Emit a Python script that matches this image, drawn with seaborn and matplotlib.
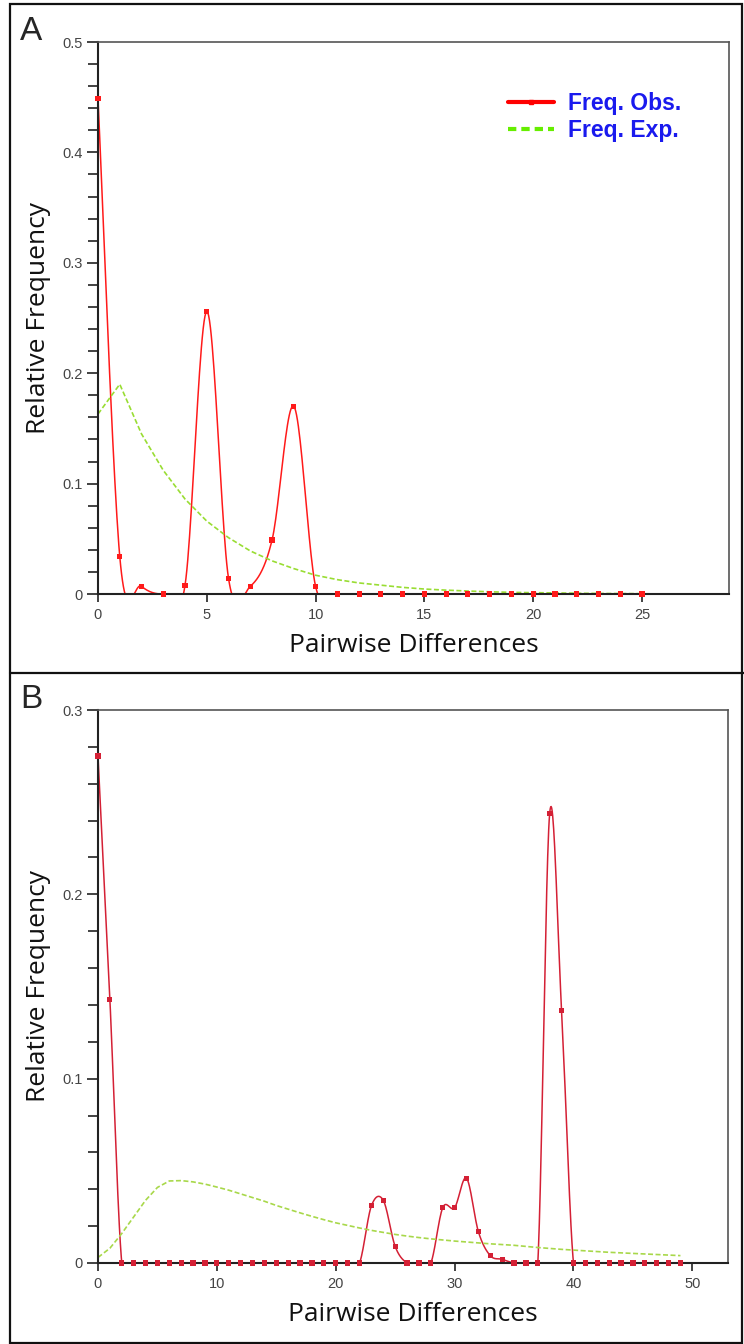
import numpy as np
import pandas as pd
import matplotlib
matplotlib.use("Agg")
import matplotlib.pyplot as plt
from matplotlib.lines import Line2D
from matplotlib.patches import Rectangle
from matplotlib.ticker import MultipleLocator
import seaborn as sns

# ---------------- data ----------------
a_x = list(range(0, 26))
a_obs = [0.449, 0.034, 0.007, 0.0, 0.008, 0.256, 0.014, 0.007, 0.049, 0.170,
         0.007, 0, 0, 0, 0, 0, 0, 0, 0, 0, 0, 0, 0, 0, 0, 0]
a_exp = [0.163, 0.190, 0.145, 0.112, 0.086, 0.066, 0.051, 0.039, 0.030, 0.023,
         0.017, 0.013, 0.010, 0.008, 0.006, 0.0045, 0.0035, 0.0027, 0.002, 0.0015,
         0.0012, 0.001, 0.0007, 0.0005, 0.0004, 0.0003]

b_x = list(range(0, 50))
b_obs = [0.275, 0.143] + [0.0] * 21 + [0.031, 0.034, 0.009, 0.0, 0.0, 0.0,
         0.030, 0.030, 0.046, 0.017, 0.004, 0.002, 0.0, 0.0, 0.0,
         0.244, 0.137] + [0.0] * 10
b_exp = [0.003, 0.008, 0.016, 0.025, 0.034, 0.041, 0.0445, 0.0447, 0.0440, 0.0428,
         0.0412, 0.0395, 0.0375, 0.0355, 0.0335, 0.0312, 0.0292, 0.0272, 0.0253, 0.0235,
         0.0218, 0.0204, 0.0190, 0.0177, 0.0166, 0.0155, 0.0146, 0.0138, 0.0131, 0.0125,
         0.0119, 0.0114, 0.0109, 0.0104, 0.0100, 0.0096, 0.0090, 0.0084, 0.0079, 0.0074,
         0.0070, 0.0066, 0.0062, 0.0058, 0.0055, 0.0052, 0.0049, 0.0046, 0.0043, 0.0040]

xlabel = "Pairwise Differences"
ylabel = "Relative Frequency"
legend_labels = ["Freq. Obs.", "Freq. Exp."]


def cardinal_curve(x, y, n=24):
    """Cardinal (Catmull-Rom) spline drawn through the data points."""
    x = np.asarray(x, float)
    y = np.asarray(y, float)
    px = np.concatenate([[x[0]], x, [x[-1]]])
    py = np.concatenate([[y[0]], y, [y[-1]]])
    t = np.linspace(0, 1, n, endpoint=False)
    h00 = 2 * t**3 - 3 * t**2 + 1
    h10 = t**3 - 2 * t**2 + t
    h01 = -2 * t**3 + 3 * t**2
    h11 = t**3 - t**2
    xs, ys = [], []
    for i in range(len(x) - 1):
        for p, out in ((px, xs), (py, ys)):
            p0, p1, p2, p3 = p[i], p[i + 1], p[i + 2], p[i + 3]
            m1 = (p2 - p0) / 2
            m2 = (p3 - p1) / 2
            out.append(h00 * p1 + h10 * m1 + h01 * p2 + h11 * m2)
    xs.append([x[-1]])
    ys.append([y[-1]])
    return np.concatenate(xs), np.concatenate(ys)


sns.set_style("white")
plt.rcParams["font.family"] = ["Open Sans", "DejaVu Sans"]

fig = plt.figure(figsize=(7.44, 13.44), dpi=100)

W, H = 744.0, 1344.0
axA = fig.add_axes([98 / W, 1 - 594 / H, (729 - 98) / W, (594 - 42) / H])
axB = fig.add_axes([98 / W, 1 - 1263 / H, (728 - 98) / W, (1263 - 710) / H])

tick_font = ["Liberation Sans Narrow", "Liberation Sans", "DejaVu Sans"]


def draw_panel(ax, x, obs, exp, ylim, xlim, xmajor, red, green, ms):
    sx, sy = cardinal_curve(x, obs)
    sns.lineplot(data=pd.DataFrame({"x": sx, "y": sy}), x="x", y="y", ax=ax,
                 sort=False, estimator=None, color=red, lw=1.1)
    sns.lineplot(data=pd.DataFrame({"x": x, "y": exp}), x="x", y="y", ax=ax,
                 sort=False, estimator=None, color=green, lw=1.2,
                 dashes=False, linestyle=(0, (3, 1.5)))
    sns.scatterplot(data=pd.DataFrame({"x": x, "y": obs}), x="x", y="y", ax=ax,
                    marker="s", s=ms, color=red, edgecolor="none",
                    clip_on=False, zorder=5)
    ax.set_xlim(*xlim)
    ax.set_ylim(*ylim)
    ax.xaxis.set_major_locator(MultipleLocator(xmajor))
    ax.yaxis.set_major_locator(MultipleLocator(0.1))
    ax.yaxis.set_minor_locator(MultipleLocator(0.02))
    ax.tick_params(axis="both", which="both", direction="out", colors="#222222",
                   labelcolor="#444444", left=True, bottom=True)
    ax.tick_params(axis="y", which="major", length=8, width=1.2, labelsize=10.5, pad=3)
    ax.tick_params(axis="y", which="minor", length=7, width=1.2)
    ax.tick_params(axis="x", which="major", length=6, width=1.2, labelsize=10.5, pad=4)
    ax.tick_params(axis="x", which="minor", bottom=False)
    ax.yaxis.set_major_formatter(matplotlib.ticker.FuncFormatter(
        lambda v, p: "0" if abs(v) < 1e-9 else f"{v:.1f}"))
    for lab in ax.get_xticklabels() + ax.get_yticklabels():
        lab.set_family(tick_font)
    for side in ("left", "bottom"):
        ax.spines[side].set_color("#222222")
        ax.spines[side].set_linewidth(1.5)
    for side in ("top", "right"):
        ax.spines[side].set_color("#555555")
        ax.spines[side].set_linewidth(1.2)
        ax.spines[side].set_visible(True)
    ax.set_xlabel(xlabel, fontsize=19, color="#111111", labelpad=8)
    ax.set_ylabel(ylabel, fontsize=19, color="#111111", labelpad=8)


draw_panel(axA, a_x, a_obs, a_exp, (0, 0.5), (0, 29), 5, "#ff1a1a", "#99dd33", 14)
draw_panel(axB, b_x, b_obs, b_exp, (0, 0.3), (0, 53), 10, "#d42035", "#a8d84a", 14)

# legend in panel A
handles = [
    Line2D([], [], color="#ff0000", lw=3, marker="s", markersize=3.5,
           markevery=[1], markerfacecolor="#ff0000"),
    Line2D([], [], color="#66ee00", lw=3, linestyle=(0, (2.0, 1.2))),
]
leg = axA.legend(handles, legend_labels, loc="upper right",
                 bbox_to_anchor=(0.957, 0.947), frameon=False,
                 handlelength=2.0, handletextpad=0.6, labelspacing=0.18,
                 prop={"family": ["Liberation Sans", "DejaVu Sans"],
                       "weight": "bold", "size": 16.5})
for txt in leg.get_texts():
    txt.set_color("#1a1aee")

# panel letters
fig.text(31 / W, 1 - 32 / H, "A", fontsize=24, ha="center", va="center",
         family=["Liberation Sans", "DejaVu Sans"])
fig.text(31 / W, 1 - 700 / H, "B", fontsize=24, ha="center", va="center",
         family=["Liberation Sans", "DejaVu Sans"])

# frame and divider
fig.add_artist(Rectangle((10 / W, 1 / H), (742 - 10) / W, (1340 - 1) / H,
                         transform=fig.transFigure, fill=False,
                         edgecolor="#111111", lw=1.6))
fig.add_artist(Line2D([10 / W, 1.0], [1 - 673 / H, 1 - 673 / H],
                      transform=fig.transFigure, color="#111111", lw=1.6))

fig.savefig("out.png", dpi=100)
